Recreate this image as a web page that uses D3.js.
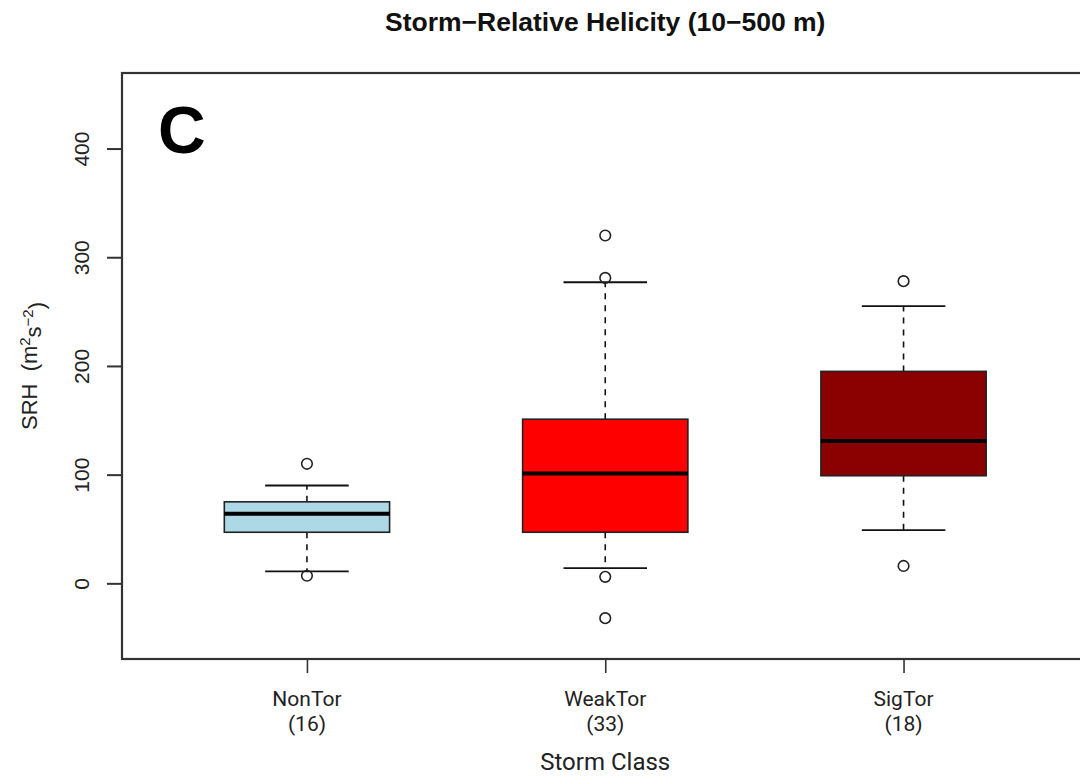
<!DOCTYPE html>
<html>
<head>
<meta charset="utf-8">
<script src="https://cdn.jsdelivr.net/npm/d3@7"></script>
<style>
  html, body { margin: 0; padding: 0; background: #fff; }
  svg { display: block; }
</style>
</head>
<body>
<svg id="chart" width="1080" height="778"></svg>
<script>
// Storm classes and their sample counts
const categories = ["NonTor", "WeakTor", "SigTor"];
const counts = [16, 33, 18];
const fills = ["#ADD8E6", "#FF0000", "#8B0000"];

// Five-number summaries (m^2 s^-2)
const lowerWhisker = [11, 14, 49];
const q1 = [47, 47, 99];
const median = [64, 101, 131];
const q3 = [75, 151, 195];
const upperWhisker = [90, 277, 255];

// Outliers per class
const outliers = [
  [110, 7],
  [320, 281, -32, 6],
  [278, 16]
];

const yTicks = [0, 100, 200, 300, 400];

const svg = d3.select("#chart");
const margin = { left: 122, top: 73, bottom: 659 };

// x: class index 1..3 on a linear scale, cropped at the right edge
const x = d3.scaleLinear().domain([0.38, 3.62]).range([margin.left, margin.left + 3.24 * 298.3]);
const y = d3.scaleLinear().domain([-69.6, 469.5]).range([margin.bottom, margin.top]);

const boxHalf = 0.277;   // box half width in class units
const capHalf = 0.14;    // whisker cap half width

const g = svg.append("g");

categories.forEach((c, i) => {
  const cx = x(i + 1);
  const gg = g.append("g");
  // whiskers (dashed)
  gg.append("line").attr("x1", cx).attr("x2", cx)
    .attr("y1", y(q3[i])).attr("y2", y(upperWhisker[i]))
    .attr("stroke", "#111").attr("stroke-width", 1.6).attr("stroke-dasharray", "6,6");
  gg.append("line").attr("x1", cx).attr("x2", cx)
    .attr("y1", y(q1[i])).attr("y2", y(lowerWhisker[i]))
    .attr("stroke", "#111").attr("stroke-width", 1.6).attr("stroke-dasharray", "6,6");
  // caps
  [upperWhisker[i], lowerWhisker[i]].forEach(v => {
    gg.append("line")
      .attr("x1", x(i + 1 - capHalf)).attr("x2", x(i + 1 + capHalf))
      .attr("y1", y(v)).attr("y2", y(v))
      .attr("stroke", "#111").attr("stroke-width", 1.8);
  });
  // box
  gg.append("rect")
    .attr("x", x(i + 1 - boxHalf))
    .attr("width", x(i + 1 + boxHalf) - x(i + 1 - boxHalf))
    .attr("y", y(q3[i]))
    .attr("height", y(q1[i]) - y(q3[i]))
    .attr("fill", fills[i])
    .attr("stroke", "#222").attr("stroke-width", 1.6);
  // median
  gg.append("line")
    .attr("x1", x(i + 1 - boxHalf)).attr("x2", x(i + 1 + boxHalf))
    .attr("y1", y(median[i])).attr("y2", y(median[i]))
    .attr("stroke", "#000").attr("stroke-width", 4);
  // outliers
  gg.selectAll("circle.out").data(outliers[i]).enter().append("circle")
    .attr("class", "out")
    .attr("cx", cx).attr("cy", d => y(d)).attr("r", 5.3)
    .attr("fill", "none").attr("stroke", "#222").attr("stroke-width", 1.6);
});

// plot frame (right side runs past the canvas)
svg.append("rect")
  .attr("x", margin.left).attr("y", margin.top)
  .attr("width", x(3.62) - margin.left).attr("height", margin.bottom - margin.top)
  .attr("fill", "none").attr("stroke", "#333").attr("stroke-width", 2.2);

// y axis ticks and rotated labels
const yAxis = svg.append("g").attr("transform", `translate(${margin.left},0)`)
  .call(d3.axisLeft(y).tickValues(yTicks).tickSize(15).tickPadding(0).tickFormat(d3.format("d")));
yAxis.select(".domain").remove();
yAxis.selectAll(".tick line").attr("stroke", "#333").attr("stroke-width", 2);
yAxis.selectAll(".tick text")
  .attr("x", null).attr("dy", null)
  .attr("text-anchor", "middle")
  .attr("transform", "translate(-40,0) rotate(-90)")
  .attr("dy", "0.35em")
  .style("font-family", "'Liberation Sans', Arial, sans-serif")
  .style("font-size", "21px")
  .attr("fill", "#222");

// x axis ticks
const xAxis = svg.append("g").attr("transform", `translate(0,${margin.bottom})`)
  .call(d3.axisBottom(x).tickValues([1, 2, 3]).tickSize(14).tickFormat(""));
xAxis.select(".domain").remove();
xAxis.selectAll(".tick line").attr("stroke", "#333").attr("stroke-width", 1.6);

// category labels with counts
const labelFont = "Roboto, 'Noto Sans', sans-serif";
categories.forEach((c, i) => {
  svg.append("text").attr("x", x(i + 1)).attr("y", 706)
    .attr("text-anchor", "middle")
    .style("font-family", labelFont).style("font-size", "21px")
    .attr("fill", "#222").text(c);
  svg.append("text").attr("x", x(i + 1)).attr("y", 731)
    .attr("text-anchor", "middle")
    .style("font-family", labelFont).style("font-size", "21px")
    .attr("fill", "#222").text(`(${counts[i]})`);
});

// x axis title
svg.append("text").attr("x", x(2)).attr("y", 770)
  .attr("text-anchor", "middle")
  .style("font-family", labelFont).style("font-size", "24px")
  .attr("fill", "#222").text("Storm Class");

// y axis title
const yt = svg.append("text")
  .attr("transform", `translate(37,${(margin.top + margin.bottom) / 2}) rotate(-90)`)
  .attr("text-anchor", "middle")
  .style("font-family", "'Liberation Sans', Arial, sans-serif")
  .style("font-size", "22px")
  .attr("fill", "#222");
yt.append("tspan").text("SRH\u00a0\u00a0(m");
yt.append("tspan").attr("dy", "-0.5em").style("font-size", "15px").text("2");
yt.append("tspan").attr("dy", "0.5em").text("s");
yt.append("tspan").attr("dy", "-0.5em").style("font-size", "15px").text("−2");
yt.append("tspan").attr("dy", "0.5em").text(")");

// main title
svg.append("text").attr("x", x(2)).attr("y", 31)
  .attr("text-anchor", "middle")
  .style("font-family", "'Liberation Sans', Arial, sans-serif")
  .style("font-size", "26.5px").style("font-weight", "bold")
  .attr("fill", "#111").text("Storm−Relative Helicity (10−500 m)");

// panel letter
svg.append("text").attr("x", 158).attr("y", 153)
  .style("font-family", "'Liberation Sans', Arial, sans-serif")
  .style("font-size", "66px").style("font-weight", "bold")
  .attr("fill", "#000").text("C");
</script>
</body>
</html>
